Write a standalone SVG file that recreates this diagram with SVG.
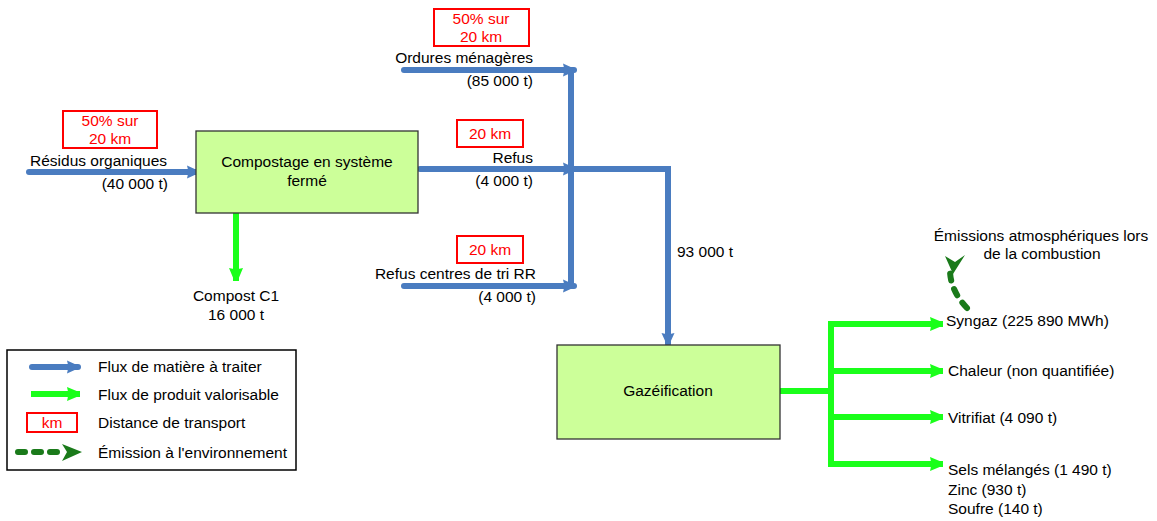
<svg xmlns="http://www.w3.org/2000/svg" width="1157" height="521" viewBox="0 0 1157 521">
<defs>
<style>
text{font-family:"Liberation Sans",Arial,sans-serif;font-size:15.5px;fill:#000}
.red{fill:#ff0000}
.rbox{fill:#fff;stroke:#ff0000;stroke-width:2}
.node{fill:#ccff99;stroke:#333;stroke-width:1.3}
.blue{fill:none;stroke:#4a7cc0;stroke-width:6;stroke-linecap:round;stroke-linejoin:miter}
.green{fill:none;stroke:#1aff1a;stroke-width:6;stroke-linecap:butt;stroke-linejoin:miter}
.emit{fill:none;stroke:#1a7a1a;stroke-width:6;stroke-linecap:round;stroke-dasharray:7 9}
.m{text-anchor:middle}
.e{text-anchor:end}
</style>
<marker id="ab" markerUnits="userSpaceOnUse" markerWidth="16" markerHeight="16" refX="12" refY="8" orient="auto">
<path d="M1,1.5 L12,6.5 Q13.5,8 12,9.5 L1,14.5 Q3,8 1,1.5 Z" fill="#4a7cc0"/>
</marker>
<marker id="ag" markerUnits="userSpaceOnUse" markerWidth="18" markerHeight="18" refX="14" refY="9" orient="auto">
<path d="M1,2 L13,7 Q15,9 13,11 L1,16 Q3,9 1,2 Z" fill="#1aff1a"/>
</marker>
</defs>

<g id="connectors">
<line class="blue" x1="29" y1="172" x2="198" y2="172" marker-end="url(#ab)"/>
<line class="green" x1="236" y1="213" x2="236" y2="281" marker-end="url(#ag)"/>
<line class="blue" x1="404" y1="70" x2="574" y2="70" marker-end="url(#ab)"/>
<line class="blue" x1="420" y1="169" x2="574" y2="169" marker-end="url(#ab)"/>
<line class="blue" x1="404" y1="286" x2="574" y2="286" marker-end="url(#ab)"/>
<line class="blue" x1="571" y1="68" x2="571" y2="289" style="stroke-linecap:butt"/>
<path class="blue" d="M568,169 H668 V344" marker-end="url(#ab)"/>
<line class="green" x1="780" y1="391" x2="831" y2="391"/>
<path class="green" d="M900,324 H831 V464 H900"/>
<line class="green" x1="831" y1="324" x2="943" y2="324" marker-end="url(#ag)"/>
<line class="green" x1="831" y1="371" x2="943" y2="371" marker-end="url(#ag)"/>
<line class="green" x1="831" y1="417" x2="943" y2="417" marker-end="url(#ag)"/>
<line class="green" x1="831" y1="464" x2="943" y2="464" marker-end="url(#ag)"/>
<path class="emit" d="M967,308 Q950,290 950,270"/>
<polygon points="945,256 955,262 965,255 953,274" fill="#1a7a1a"/>
</g>

<g id="compostage">
<rect class="node" x="196" y="131" width="222" height="82"/>
<text class="m" x="307" y="167">Compostage en système</text>
<text class="m" x="307" y="186">fermé</text>
</g>

<g id="gazeification">
<rect class="node" x="557" y="345" width="223" height="94"/>
<text class="m" x="668" y="396">Gazéification</text>
</g>

<g id="residus">
<rect class="rbox" x="63" y="111" width="94" height="37"/>
<text class="m red" x="110" y="126">50% sur</text>
<text class="m red" x="110" y="144">20 km</text>
<text x="30" y="166">Résidus organiques</text>
<text class="e" x="168" y="189">(40 000 t)</text>
</g>

<g id="compost">
<text class="m" x="236" y="301">Compost C1</text>
<text class="m" x="236" y="320">16 000 t</text>
</g>

<g id="ordures">
<rect class="rbox" x="434" y="9" width="95" height="37"/>
<text class="m red" x="481" y="24">50% sur</text>
<text class="m red" x="481" y="42">20 km</text>
<text class="e" x="533" y="63">Ordures ménagères</text>
<text class="e" x="533" y="86">(85 000 t)</text>
</g>

<g id="refus">
<rect class="rbox" x="457" y="120" width="66" height="27"/>
<text class="m red" x="490" y="139">20 km</text>
<text class="e" x="533" y="163">Refus</text>
<text class="e" x="533" y="186">(4 000 t)</text>
</g>

<g id="refus-centres">
<rect class="rbox" x="457" y="236" width="66" height="27"/>
<text class="m red" x="490" y="255">20 km</text>
<text class="e" x="536" y="279">Refus centres de tri RR</text>
<text class="e" x="536" y="302">(4 000 t)</text>
</g>

<g id="flow-93000">
<text x="677" y="257">93 000 t</text>
</g>

<g id="emissions">
<text class="m" x="1041" y="241">Émissions atmosphériques lors</text>
<text class="m" x="1042" y="259">de la combustion</text>
</g>

<g id="products">
<text x="946" y="326">Syngaz (225 890 MWh)</text>
<text x="948" y="376">Chaleur (non quantifiée)</text>
<text x="948" y="423">Vitrifiat (4 090 t)</text>
<text x="948" y="475">Sels mélangés (1 490 t)</text>
<text x="948" y="495">Zinc (930 t)</text>
<text x="948" y="514">Soufre (140 t)</text>
</g>

<g id="legend">
<rect x="7" y="350" width="289" height="120" fill="#fff" stroke="#000" stroke-width="1.5"/>
<line class="blue" x1="32" y1="367" x2="78" y2="367" marker-end="url(#ab)"/>
<text x="98" y="372">Flux de matière à traiter</text>
<line x1="31" y1="394" x2="80" y2="394" stroke="#1aff1a" stroke-width="6" marker-end="url(#ag)"/>
<text x="98" y="400">Flux de produit valorisable</text>
<rect class="rbox" x="27" y="413" width="50" height="19"/>
<text class="m red" x="52" y="428">km</text>
<text x="98" y="428">Distance de transport</text>
<line x1="18" y1="452" x2="64" y2="452" stroke="#1a7a1a" stroke-width="6" stroke-linecap="round" stroke-dasharray="7 9"/>
<polygon points="62,444 82,452 62,461 67,452" fill="#1a7a1a"/>
<text x="98" y="458">Émission à l'environnement</text>
</g>
</svg>
